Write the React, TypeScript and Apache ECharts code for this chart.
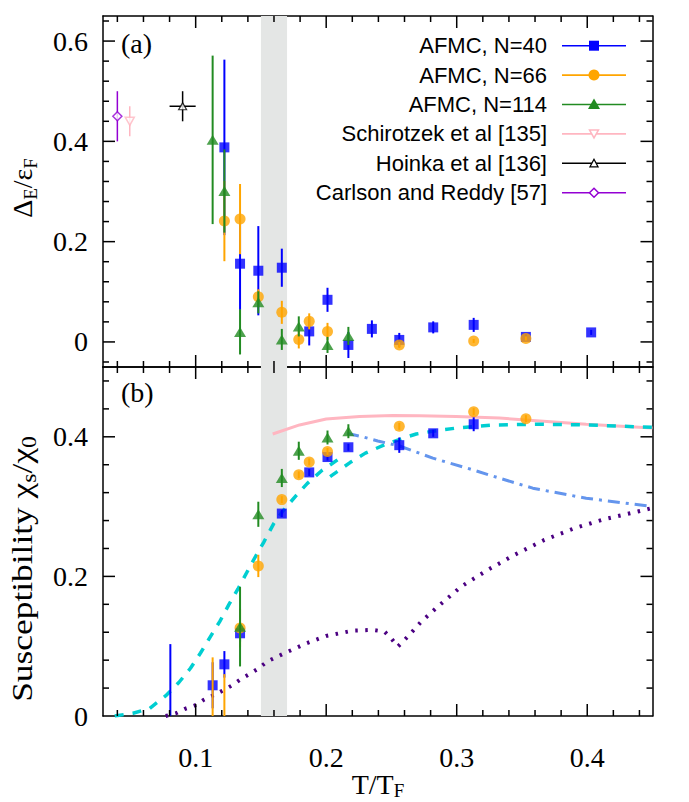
import React, { useEffect, useRef } from "react";
import * as echarts from "echarts";

// ---------------- axes ----------------
const xRange = [0.029, 0.45];
const yRangeA = [-0.05, 0.65];
const yRangeB = [0, 0.5];
const xTickLabels = [0.1, 0.2, 0.3, 0.4];
const yTickLabelsA = [0, 0.2, 0.4, 0.6];
const yTickLabelsB = [0, 0.2, 0.4];
const xMajorTicks = [0.1, 0.2, 0.3, 0.4];
const xMinorTicks = [0.04, 0.06, 0.08, 0.12, 0.14, 0.16, 0.18, 0.22, 0.24, 0.26, 0.28, 0.32, 0.34, 0.36, 0.38, 0.42, 0.44];
const yMajorTicksA = [0, 0.2, 0.4, 0.6];
const yMinorTicksA = [-0.04, 0.04, 0.08, 0.12, 0.16, 0.24, 0.28, 0.32, 0.36, 0.44, 0.48, 0.52, 0.56, 0.64];
const yMajorTicksB = [0.2, 0.4];
const yMinorTicksB = [0.04, 0.08, 0.12, 0.16, 0.24, 0.28, 0.32, 0.36, 0.44, 0.48];
const pseudogapBand = [0.15, 0.17];

// ---------------- panel (a): gap  [T/TF, value, error] ----------------
const gapN40 = [
  [0.122, 0.388, 0.175],
  [0.134, 0.156, 0.092],
  [0.148, 0.142, 0.089],
  [0.166, 0.148, 0.038],
  [0.187, 0.021, 0.028],
  [0.201, 0.084, 0.024],
  [0.217, -0.006, 0.026],
  [0.235, 0.026, 0.017],
  [0.256, 0.004, 0.014],
  [0.282, 0.029, 0.012],
  [0.313, 0.034, 0.014],
  [0.353, 0.010, 0.006],
  [0.403, 0.019, 0.005],
];
const gapN66 = [
  [0.122, 0.241, 0.080],
  [0.134, 0.245, 0.070],
  [0.148, 0.090, 0.015],
  [0.166, 0.059, 0.023],
  [0.179, 0.005, 0.018],
  [0.187, 0.041, 0.016],
  [0.201, 0.021, 0.017],
  [0.256, -0.006, 0.006],
  [0.313, 0.002, 0.004],
  [0.353, 0.007, 0.004],
];
const gapN114 = [
  [0.113, 0.403, 0.168],
  [0.122, 0.301, 0.083],
  [0.134, 0.020, 0.045],
  [0.148, 0.079, 0.022],
  [0.166, 0.005, 0.021],
  [0.179, 0.031, 0.020],
  [0.201, -0.006, 0.016],
  [0.217, 0.012, 0.018],
];
const gapSchirotzek = [[0.0495, 0.44, 0.03]];
const gapHoinka = [[0.09, 0.47, 0.03, 0.01]]; // T, value, yErr, xErr
const gapCarlson = [[0.04, 0.45, 0.05]];

// ---------------- panel (b): susceptibility ----------------
const chiN40 = [
  [0.0806, -0.01, 0.113],
  [0.113, 0.044, 0.033],
  [0.122, 0.074, 0.019],
  [0.134, 0.1185, 0.012],
  [0.166, 0.29, 0.005],
  [0.187, 0.349, 0.005],
  [0.201, 0.371, 0.005],
  [0.217, 0.385, 0.005],
  [0.256, 0.388, 0.011],
  [0.282, 0.405, 0.005],
  [0.313, 0.418, 0.01],
];
const chiN66 = [
  [0.113, -0.005, 0.089],
  [0.122, -0.02, 0.08],
  [0.134, 0.126, 0.028],
  [0.148, 0.215, 0.016],
  [0.166, 0.31, 0.005],
  [0.179, 0.3455, 0.005],
  [0.187, 0.364, 0.005],
  [0.201, 0.379, 0.005],
  [0.256, 0.415, 0.005],
  [0.313, 0.436, 0.005],
  [0.353, 0.426, 0.005],
];
const chiN114 = [
  [0.134, 0.128, 0.057],
  [0.148, 0.289, 0.018],
  [0.166, 0.341, 0.013],
  [0.179, 0.38, 0.013],
  [0.201, 0.399, 0.01],
  [0.217, 0.408, 0.01],
];
const curvePink = [
  [0.159, 0.404], [0.1796, 0.417], [0.2, 0.4254], [0.2256, 0.4292], [0.2511, 0.4306],
  [0.2715, 0.4301], [0.2996, 0.429], [0.3328, 0.4268], [0.3583, 0.4234], [0.3992, 0.418], [0.45, 0.4125],
];
const curveCyanLow = [
  [0.038, 0], [0.052, 0.004], [0.0648, 0.011], [0.0769, 0.0287], [0.0871, 0.048], [0.096, 0.0684],
  [0.1037, 0.0903], [0.1113, 0.1137], [0.1184, 0.1352], [0.1253, 0.1591], [0.1324, 0.182], [0.1427, 0.218],
  [0.152, 0.2485], [0.1597, 0.2753], [0.1669, 0.294], [0.1771, 0.316], [0.1854, 0.333], [0.1969, 0.352],
  [0.2095, 0.368], [0.213, 0.372],
];
const curveCyanHigh = [
  [0.203, 0.343], [0.2076, 0.349], [0.2185, 0.3634], [0.23, 0.3766], [0.2447, 0.3885], [0.2588, 0.398],
  [0.269, 0.404], [0.2817, 0.408], [0.2996, 0.4125], [0.327, 0.4168], [0.36, 0.418], [0.3966, 0.4172],
  [0.4385, 0.4143], [0.45, 0.4135],
];
const curveDashDot = [
  [0.216, 0.405], [0.228, 0.4], [0.2395, 0.394], [0.256, 0.387], [0.2817, 0.3694], [0.3123, 0.3527],
  [0.3328, 0.3407], [0.3583, 0.3264], [0.3992, 0.312], [0.45, 0.3],
];
const curveDotted = [
  [0.077, 0], [0.085, 0.004], [0.0914, 0.01], [0.1006, 0.016], [0.106, 0.023], [0.114, 0.03],
  [0.1214, 0.037], [0.128, 0.044], [0.1356, 0.054], [0.142, 0.061], [0.148, 0.068], [0.1547, 0.078],
  [0.1669, 0.089], [0.1847, 0.104], [0.2, 0.1147], [0.2205, 0.1223], [0.2358, 0.1233], [0.2447, 0.1209],
  [0.2498, 0.1114], [0.2549, 0.0994], [0.2625, 0.1137], [0.2728, 0.1352], [0.2855, 0.1567], [0.3034, 0.1854],
  [0.3238, 0.2093], [0.3442, 0.2308], [0.3672, 0.2523], [0.3902, 0.269], [0.4132, 0.282], [0.4387, 0.2929],
  [0.45, 0.298],
];

const legendLabels = [
  "AFMC, N=40",
  "AFMC, N=66",
  "AFMC, N=114",
  "Schirotzek et al [135]",
  "Hoinka et al [136]",
  "Carlson and Reddy [57]",
];

// ---------------- styles ----------------
const SERIF = '"Liberation Serif", "Times New Roman", serif';
const SANS = '"Liberation Sans", Arial, Helvetica, sans-serif';
const BLUE = "#0000ff";
const ORANGE = "#ffa500";
const GREEN = "#228b22";
const PINK = "#ffb6c1";
const BLACK = "#000000";
const VIOLET = "#9400d3";
const CYAN = "#00ced1";
const CORNFLOWER = "#6495ed";
const INDIGO = "#4b0082";
const BAND = "#e4e6e5";
// tick lengths expressed in each axis' data units (≈12 px major, 6 px minor)
const TICK_X_MAJOR = 0.0092;
const TICK_X_MINOR = 0.0046;
const TICK_YA_MAJOR = 0.0239;
const TICK_YA_MINOR = 0.012;
const TICK_YB_MAJOR = 0.0172;
const TICK_YB_MINOR = 0.0086;

const fmt = (v: number) => (v === 0 ? "0" : String(v));

function axisCommon(range: number[]) {
  return {
    type: "value",
    min: range[0],
    max: range[1],
    splitLine: { show: false },
    axisLine: { show: true, onZero: false, lineStyle: { color: BLACK, width: 1.5 } },
    axisTick: { show: false },
    minorTick: { show: false },
  };
}

function xAxesFor(gridIndex: number, labels: boolean) {
  const mk = (position: string, withLabels: boolean) => ({
    ...axisCommon(xRange),
    gridIndex,
    position,
    axisLabel: withLabels
      ? { show: true, customValues: xTickLabels, margin: 27, color: BLACK, fontFamily: SERIF, fontSize: 28, formatter: fmt }
      : { show: false },
  });
  return [mk("bottom", labels), mk("top", false)];
}

function yAxesFor(gridIndex: number, range: number[], labelValues: number[]) {
  const mk = (position: string, withLabels: boolean) => ({
    ...axisCommon(range),
    gridIndex,
    position,
    axisLabel: withLabels
      ? { show: true, customValues: labelValues, margin: 15, color: BLACK, fontFamily: SERIF, fontSize: 28, formatter: fmt }
      : { show: false },
  });
  return [mk("left", true), mk("right", false)];
}

const AX_A = 0; // axis index of panel (a) data axes
const AX_B = 2; // axis index of panel (b) data axes

function bandSeries(axis: number) {
  return {
    type: "custom",
    xAxisIndex: axis,
    yAxisIndex: axis,
    data: [pseudogapBand],
    encode: { x: [0, 1] },
    z: 1,
    silent: true,
    renderItem: (params: any, api: any) => {
      const cs = params.coordSys;
      const x0 = api.coord([api.value(0), 0])[0];
      const x1 = api.coord([api.value(1), 0])[0];
      return { type: "rect", shape: { x: x0, y: cs.y, width: x1 - x0, height: cs.height }, style: { fill: BAND } };
    },
  };
}

// Line segments centred on (x, y) with half-length e, clipped to the plot frame.
function errorSeries(data: number[][], color: string, width: number, axis: number, z: number, horizontal = false) {
  return {
    type: "custom",
    xAxisIndex: axis,
    yAxisIndex: axis,
    data,
    z,
    silent: true,
    renderItem: (params: any, api: any) => {
      const cs = params.coordSys;
      const x = api.value(0);
      const y = api.value(1);
      const e = api.value(horizontal ? 3 : 2);
      const p1 = horizontal ? api.coord([x - e, y]) : api.coord([x, y + e]);
      const p2 = horizontal ? api.coord([x + e, y]) : api.coord([x, y - e]);
      const cy = (v: number) => Math.max(cs.y, Math.min(cs.y + cs.height, v));
      const cx = (v: number) => Math.max(cs.x, Math.min(cs.x + cs.width, v));
      return {
        type: "line",
        shape: { x1: cx(p1[0]), y1: cy(p1[1]), x2: cx(p2[0]), y2: cy(p2[1]) },
        style: { stroke: color, lineWidth: width },
      };
    },
  };
}

// Frame ticks: segments centred on the frame edges, the outer half clipped away.
function frameTickSeries(axis: number, yRange: number[], yMaj: number[], yMin: number[], yMajLen: number, yMinLen: number) {
  const vertical: number[][] = [];
  xMajorTicks.forEach((v) => {
    vertical.push([v, yRange[0], yMajLen]);
    vertical.push([v, yRange[1], yMajLen]);
  });
  xMinorTicks.forEach((v) => {
    vertical.push([v, yRange[0], yMinLen]);
    vertical.push([v, yRange[1], yMinLen]);
  });
  const horizontal: number[][] = [];
  yMaj.forEach((v) => {
    horizontal.push([xRange[0], v, 0, TICK_X_MAJOR]);
    horizontal.push([xRange[1], v, 0, TICK_X_MAJOR]);
  });
  yMin.forEach((v) => {
    horizontal.push([xRange[0], v, 0, TICK_X_MINOR]);
    horizontal.push([xRange[1], v, 0, TICK_X_MINOR]);
  });
  return [errorSeries(vertical, BLACK, 1.5, axis, 11), errorSeries(horizontal, BLACK, 1.5, axis, 11, true)];
}

function markerSeries(data: number[][], symbol: string, size: any, itemStyle: any, axis: number, z: number, rotate = 0) {
  return {
    type: "scatter",
    xAxisIndex: axis,
    yAxisIndex: axis,
    data: data.map((d) => [d[0], d[1]]),
    symbol,
    symbolSize: size,
    symbolRotate: rotate,
    itemStyle,
    z,
    silent: true,
    clip: true,
  };
}

function curveSeries(data: number[][], color: string, width: number, type: any, z: number) {
  return {
    type: "line",
    xAxisIndex: AX_B,
    yAxisIndex: AX_B,
    data,
    symbol: "none",
    showSymbol: false,
    lineStyle: { color, width, type },
    z,
    silent: true,
    clip: true,
  };
}

function legendGraphics() {
  const items: any[] = [];
  const textRight = 547;
  const lineX1 = 562;
  const lineX2 = 626;
  const mx = 594;
  const colors = [BLUE, ORANGE, GREEN, PINK, BLACK, VIOLET];
  legendLabels.forEach((label, i) => {
    const y = 45.7 + i * 29.4;
    items.push({
      type: "text",
      x: textRight,
      y,
      style: {
        text: label,
        align: "right",
        verticalAlign: "middle",
        textAlign: "right",
        textVerticalAlign: "middle",
        fontFamily: SANS,
        fontSize: 22,
        fill: BLACK,
      },
    });
    items.push({ type: "line", shape: { x1: lineX1, y1: y, x2: lineX2, y2: y }, style: { stroke: colors[i], lineWidth: 1.6 } });
    if (i === 0) items.push({ type: "rect", shape: { x: mx - 5, y: y - 5, width: 10, height: 10 }, style: { fill: BLUE } });
    if (i === 1) items.push({ type: "circle", shape: { cx: mx, cy: y, r: 5.5 }, style: { fill: ORANGE } });
    if (i === 2) items.push({ type: "polygon", shape: { points: [[mx, y - 6], [mx - 6, y + 4.5], [mx + 6, y + 4.5]] }, style: { fill: GREEN } });
    if (i === 3) items.push({ type: "polygon", shape: { points: [[mx - 4.5, y - 4], [mx + 4.5, y - 4], [mx, y + 4]] }, style: { fill: "#fff", stroke: PINK, lineWidth: 1.5 } });
    if (i === 4) items.push({ type: "polygon", shape: { points: [[mx, y - 4], [mx - 4, y + 3.5], [mx + 4, y + 3.5]] }, style: { fill: "#fff", stroke: BLACK, lineWidth: 1.3 } });
    if (i === 5) items.push({ type: "polygon", shape: { points: [[mx, y - 4.5], [mx + 4.5, y], [mx, y + 4.5], [mx - 4.5, y]] }, style: { fill: "#fff", stroke: VIOLET, lineWidth: 1.5 } });
  });
  return items;
}

function titleGraphics() {
  const main = { fontFamily: SERIF, fontSize: 28, fill: BLACK, color: BLACK };
  const sub = { fontFamily: SERIF, fontSize: 19, fill: BLACK, color: BLACK, padding: [16, 0, 0, 0] };
  const mainBig = { fontFamily: SERIF, fontSize: 30, fill: BLACK, color: BLACK };
  const subBig = { fontFamily: SERIF, fontSize: 20, fill: BLACK, color: BLACK, padding: [16, 0, 0, 0] };
  const center = { align: "center", verticalAlign: "middle", textAlign: "center", textVerticalAlign: "middle" };
  return [
    {
      type: "text",
      x: 121,
      y: 43,
      style: { text: "(a)", fontFamily: SERIF, fontSize: 28, fill: BLACK, align: "left", verticalAlign: "middle", textAlign: "left", textVerticalAlign: "middle" },
    },
    {
      type: "text",
      x: 121,
      y: 392,
      style: { text: "(b)", fontFamily: SERIF, fontSize: 28, fill: BLACK, align: "left", verticalAlign: "middle", textAlign: "left", textVerticalAlign: "middle" },
    },
    {
      type: "text",
      x: 378,
      y: 784,
      style: { text: "{m|T/T}{s|F}", rich: { m: main, s: { ...sub, padding: [12, 0, 0, 0] } }, ...center },
    },
    {
      type: "text",
      x: 22,
      y: 188,
      rotation: Math.PI / 2,
      style: { text: "{m|Δ}{s|E}{m|/ε}{s|F}", rich: { m: main, s: sub }, ...center },
    },
    {
      type: "text",
      x: 22,
      y: 569,
      rotation: Math.PI / 2,
      scaleX: 1.18,
      style: { text: "{m|Susceptibility χ}{s|s}{m|/χ}{s|0}", rich: { m: mainBig, s: subBig }, ...center },
    },
  ];
}

function buildOption() {
  return {
    animation: false,
    textStyle: { fontFamily: SERIF },
    grid: [
      { left: 103, top: 16, width: 549.5, height: 351, outerBoundsMode: "none", containLabel: false },
      { left: 103, top: 367, width: 549.5, height: 349, outerBoundsMode: "none", containLabel: false },
    ],
    xAxis: [...xAxesFor(0, false), ...xAxesFor(1, true)],
    yAxis: [...yAxesFor(0, yRangeA, yTickLabelsA), ...yAxesFor(1, yRangeB, yTickLabelsB)],
    series: [
      // panel (a)
      bandSeries(AX_A),
      errorSeries(gapN40, BLUE, 2, AX_A, 3),
      markerSeries(gapN40, "rect", 10, { color: BLUE }, AX_A, 4),
      errorSeries(gapN66, ORANGE, 2, AX_A, 5),
      markerSeries(gapN66, "circle", 11, { color: ORANGE }, AX_A, 6),
      errorSeries(gapN114, GREEN, 2, AX_A, 7),
      markerSeries(gapN114, "triangle", [12, 10], { color: GREEN }, AX_A, 8),
      errorSeries(gapSchirotzek, PINK, 1.5, AX_A, 9),
      markerSeries(gapSchirotzek, "triangle", [9, 8], { color: "#fff", borderColor: PINK, borderWidth: 1.5 }, AX_A, 10, 180),
      errorSeries(gapHoinka, BLACK, 1.5, AX_A, 9),
      errorSeries(gapHoinka, BLACK, 1.5, AX_A, 9, true),
      markerSeries(gapHoinka, "triangle", [8, 7], { color: "#fff", borderColor: BLACK, borderWidth: 1.2 }, AX_A, 10),
      errorSeries(gapCarlson, VIOLET, 1.5, AX_A, 9),
      markerSeries(gapCarlson, "diamond", [9, 9], { color: "#fff", borderColor: VIOLET, borderWidth: 1.5 }, AX_A, 10),
      ...frameTickSeries(AX_A, yRangeA, yMajorTicksA, yMinorTicksA, TICK_YA_MAJOR, TICK_YA_MINOR),
      // panel (b)
      bandSeries(AX_B),
      curveSeries(curvePink, PINK, 3, "solid", 2),
      curveSeries(curveCyanLow, CYAN, 3.5, [9, 9], 2),
      curveSeries(curveCyanHigh, CYAN, 3.5, [9, 9], 2),
      curveSeries(curveDashDot, CORNFLOWER, 3, [12, 6, 3, 6], 2),
      curveSeries(curveDotted, INDIGO, 4, [2.5, 7.5], 2),
      errorSeries(chiN40, BLUE, 2, AX_B, 3),
      markerSeries(chiN40, "rect", 10, { color: BLUE }, AX_B, 4),
      errorSeries(chiN66, ORANGE, 2, AX_B, 5),
      markerSeries(chiN66, "circle", 11, { color: ORANGE }, AX_B, 6),
      errorSeries(chiN114, GREEN, 2, AX_B, 7),
      markerSeries(chiN114, "triangle", [12, 10], { color: GREEN }, AX_B, 8),
      ...frameTickSeries(AX_B, yRangeB, yMajorTicksB, yMinorTicksB, TICK_YB_MAJOR, TICK_YB_MINOR),
    ],
    graphic: { elements: [...legendGraphics(), ...titleGraphics()] },
  };
}

export default function App() {
  const ref = useRef<HTMLDivElement>(null);
  useEffect(() => {
    if (!ref.current) return;
    const chart = echarts.init(ref.current, null, { renderer: "svg" });
    chart.setOption(buildOption() as any);
    return () => chart.dispose();
  }, []);
  return (
    <div
      ref={ref}
      style={{ position: "absolute", left: 0, top: 0, width: 689, height: 802, background: "#fff" }}
    />
  );
}
